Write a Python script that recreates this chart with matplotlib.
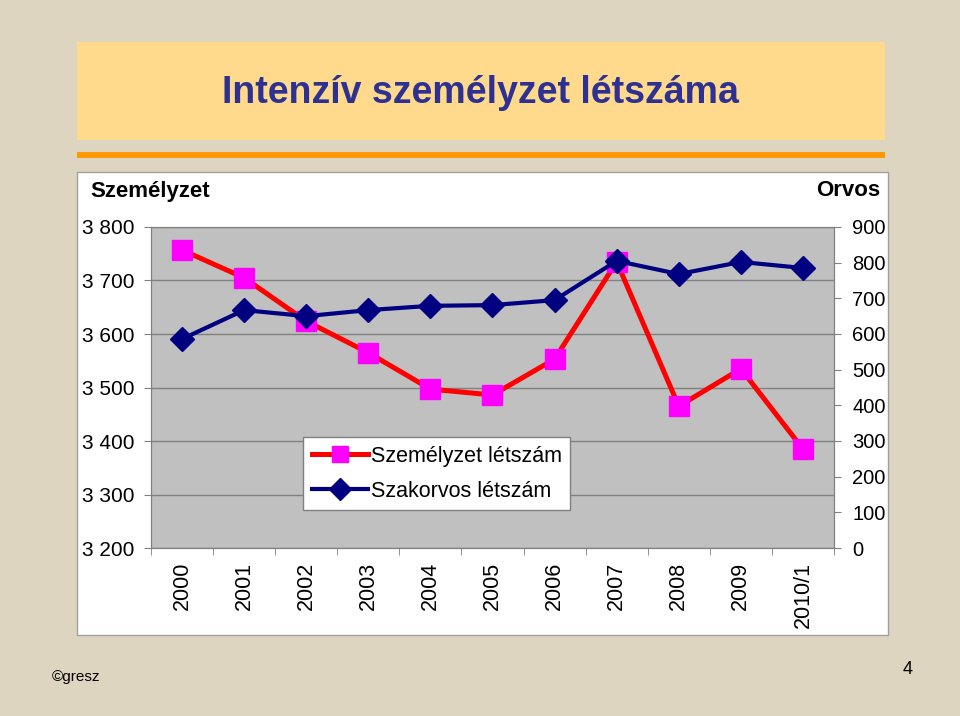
import matplotlib.pyplot as plt
from matplotlib.patches import Rectangle
from matplotlib.ticker import FuncFormatter, FixedLocator
import numpy as np

plt.rcParams['font.family'] = ['Liberation Sans', 'DejaVu Sans']

years = ['2000', '2001', '2002', '2003', '2004', '2005', '2006', '2007', '2008', '2009', '2010/1']
szemelyzet = [3757, 3705, 3624, 3565, 3497, 3486, 3553, 3735, 3465, 3535, 3385]
szakorvos = [586, 667, 650, 667, 679, 681, 695, 805, 768, 802, 785]

W, H = 960, 716
fig = plt.figure(figsize=(W / 100, H / 100), dpi=100)
fig.patch.set_facecolor('#DED5C0')

def box(x0, y0, x1, y1, **kw):
    # pixel coords (top-left origin) -> figure rectangle
    fig.patches.append(Rectangle((x0 / W, 1 - y1 / H), (x1 - x0) / W, (y1 - y0) / H,
                                 transform=fig.transFigure, zorder=-5, **kw))

box(77, 42, 885, 140, facecolor='#FFDA8C', edgecolor='none')
box(77, 152, 885, 158, facecolor='#FF9900', edgecolor='none')
box(77, 172, 888, 635, facecolor='white', edgecolor='#A0A0A0', linewidth=1)

fig.text(480 / W, 1 - 93 / H, 'Intenzív személyzet létszáma', ha='center', va='center',
         fontsize=27, fontweight='bold', color='#2E3192')

ax1 = fig.add_axes([151 / W, 1 - 548 / H, (834 - 151) / W, (548 - 227) / H])
ax2 = ax1.twinx()

x = np.arange(len(years))
l1, = ax1.plot(x, szemelyzet, color='#FF0000', lw=3.6, marker='s', ms=15,
               mfc='#FF00FF', mec='#FF00FF', label='Személyzet létszám')
l2, = ax2.plot(x, szakorvos, color='#000080', lw=3, marker='D', ms=12,
               mfc='#000080', mec='#000080', label='Szakorvos létszám')

ax1.set_facecolor('#C0C0C0')
ax2.patch.set_visible(False)
ax1.set_xlim(-0.5, len(years) - 0.5)
ax1.set_ylim(3200, 3800)
ax2.set_ylim(0, 900)
ax1.set_yticks(np.arange(3200, 3801, 100))
ax2.set_yticks(np.arange(0, 901, 100))
ax1.yaxis.set_major_formatter(FuncFormatter(lambda v, p: '{:,}'.format(int(v)).replace(',', ' ')))
ax1.grid(axis='y', color='#808080', lw=1)
ax1.set_axisbelow(True)

ax1.set_xticks(x)
ax1.set_xticklabels(years, rotation=90, fontsize=15.5)
ax1.tick_params(axis='x', which='major', length=0, pad=10)
ax1.xaxis.set_minor_locator(FixedLocator(np.arange(-0.5, len(years), 1)))
ax1.tick_params(axis='x', which='minor', length=5, color='#808080')
ax1.tick_params(axis='y', labelsize=15, length=5, color='#808080', pad=7)
ax2.tick_params(axis='y', labelsize=14.5, length=5, color='#808080', pad=8)

for ax in (ax1, ax2):
    for s in ax.spines.values():
        s.set_color('#808080')

fig.text(90 / W, 1 - 191 / H, 'Személyzet', ha='left', va='center', fontsize=16, fontweight='bold')
fig.text(880 / W, 1 - 191 / H, 'Orvos', ha='right', va='center', fontsize=16, fontweight='bold')

leg = ax2.legend(handles=[l1, l2], loc='upper left', bbox_to_anchor=(303 / W, 1 - 437 / H),
                 bbox_transform=fig.transFigure, fontsize=15.5, frameon=True, fancybox=False,
                 framealpha=1, handlelength=2.6, handletextpad=0.15, borderpad=0.4,
                 labelspacing=0.65, borderaxespad=0)
leg.get_frame().set_edgecolor('#808080')
leg.get_frame().set_linewidth(1)
for h in leg.legend_handles:
    h.set_markersize(11)

fig.text(52 / W, 1 - 677 / H, '©gresz', ha='left', va='center', fontsize=11)
fig.text(908 / W, 1 - 669 / H, '4', ha='center', va='center', fontsize=13)

fig.savefig('out.png', dpi=100, facecolor=fig.get_facecolor())
